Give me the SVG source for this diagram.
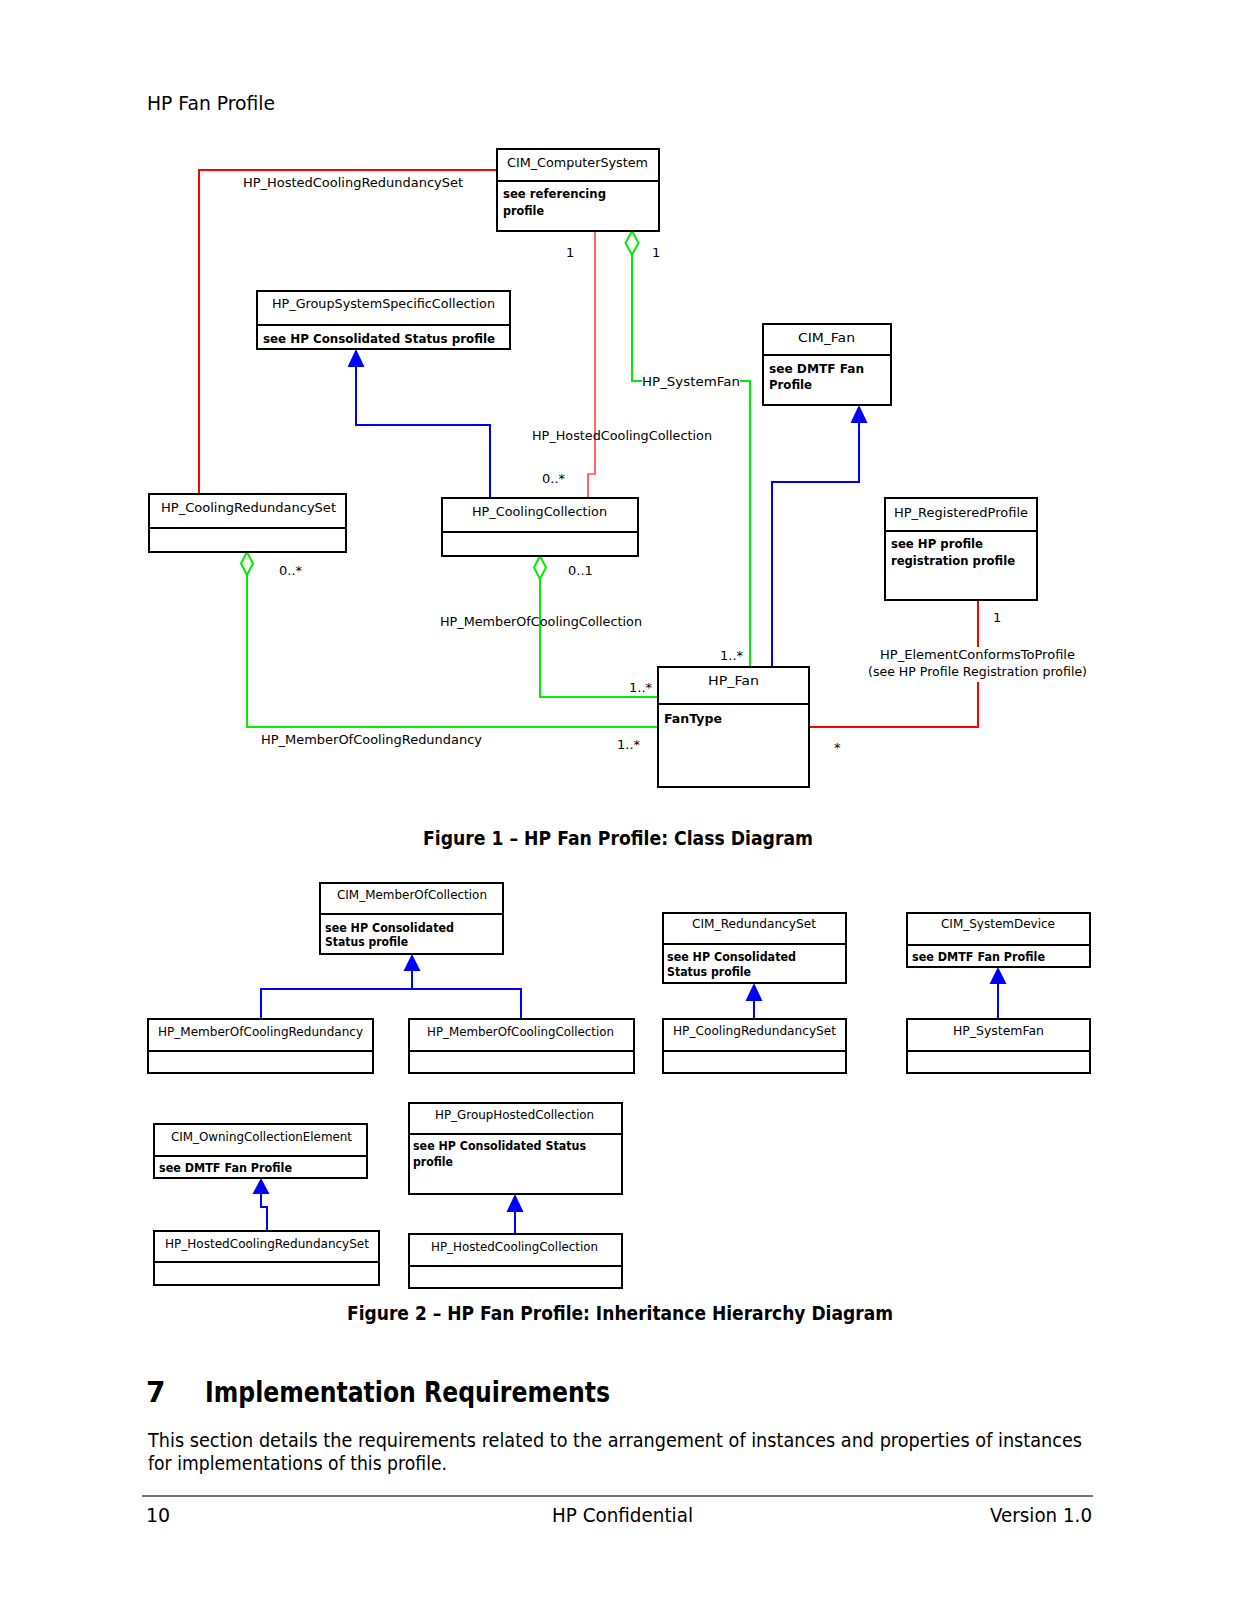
<svg xmlns="http://www.w3.org/2000/svg" width="1237" height="1600" viewBox="0 0 1237 1600">
<style>
text { font-family: "DejaVu Sans", "Liberation Sans", sans-serif; fill: #000; }
.t { font-size: 13px; }
.b { font-size: 12px; font-weight: bold; }
.l { font-size: 13px; }
.box { fill: #fff; stroke: #000; stroke-width: 2; }
.div { stroke: #000; stroke-width: 2; fill: none; }
.red { stroke: #ff0000; stroke-width: 2; fill: none; }
.redthin { stroke: #ff0000; stroke-width: 1.2; fill: none; }
.grn { stroke: #00ee00; stroke-width: 2; fill: none; }
.blu { stroke: #0000ff; stroke-width: 2; fill: none; }
.dia { fill: #fff; stroke: #00ee00; stroke-width: 2; }
.arr { fill: #0000ff; stroke: none; }
.cap { font-size: 19px; font-weight: bold; }
.doc { font-size: 19px; }
</style>
<rect width="1237" height="1600" fill="#fff"/>

<text class="doc" x="147" y="110" textLength="128" lengthAdjust="spacingAndGlyphs">HP Fan Profile</text>

<!-- Connectors figure 1 -->
<g id="connectors-fig1">
  <path class="red" d="M199,494 V170 H497"/>
  <path class="redthin" d="M595,231 V474 H588 V498"/>
  <path class="grn" d="M632,255 V381 H642 M740,381 H750 V667"/>
  <path class="dia" d="M632,231 L638.5,243 L632,255 L625.5,243 Z"/>
  <path class="grn" d="M247,575 V727 H658"/>
  <path class="dia" d="M247,552 L253,563.5 L247,575 L241,563.5 Z"/>
  <path class="grn" d="M540,579 V697 H658"/>
  <path class="dia" d="M540,556 L546,567.5 L540,579 L534,567.5 Z"/>
  <path class="blu" d="M490,498 V425 H356 V366"/>
  <path class="arr" d="M356,349 L364.5,367 L347.5,367 Z"/>
  <path class="blu" d="M772,667 V482 H859 V422"/>
  <path class="arr" d="M859,405 L867.5,423 L850.5,423 Z"/>
  <path class="red" d="M978,600 V647 M978,682 V727 H809"/>

  <text class="l" x="243" y="187" textLength="220" lengthAdjust="spacingAndGlyphs">HP_HostedCoolingRedundancySet</text>
  <text class="l" x="642" y="386" textLength="98" lengthAdjust="spacingAndGlyphs">HP_SystemFan</text>
  <text class="l" x="532" y="440" textLength="180" lengthAdjust="spacingAndGlyphs">HP_HostedCoolingCollection</text>
  <text class="l" x="440" y="626" textLength="202" lengthAdjust="spacingAndGlyphs">HP_MemberOfCoolingCollection</text>
  <text class="l" x="261" y="744" textLength="221" lengthAdjust="spacingAndGlyphs">HP_MemberOfCoolingRedundancy</text>
  <text class="l" x="880" y="659" textLength="195" lengthAdjust="spacingAndGlyphs">HP_ElementConformsToProfile</text>
  <text class="l" x="868" y="676" textLength="219" lengthAdjust="spacingAndGlyphs">(see HP  Profile Registration profile)</text>

  <text class="l" x="566" y="257">1</text>
  <text class="l" x="652" y="257">1</text>
  <text class="l" x="542" y="483">0..*</text>
  <text class="l" x="279" y="575">0..*</text>
  <text class="l" x="568" y="575">0..1</text>
  <text class="l" x="629" y="692">1..*</text>
  <text class="l" x="617" y="749">1..*</text>
  <text class="l" x="720" y="660">1..*</text>
  <text class="l" x="993" y="622">1</text>
  <text class="l" x="834" y="752">*</text>
</g>

<!-- Nodes figure 1 -->
<g id="CIM_ComputerSystem">
  <rect class="box" x="497" y="149" width="162" height="82"/>
  <line class="div" x1="497" y1="181" x2="659" y2="181"/>
  <text class="t" x="507" y="167" textLength="141" lengthAdjust="spacingAndGlyphs">CIM_ComputerSystem</text>
  <text class="b" x="503" y="198" textLength="103" lengthAdjust="spacingAndGlyphs">see referencing</text>
  <text class="b" x="503" y="215" textLength="41" lengthAdjust="spacingAndGlyphs">profile</text>
</g>
<g id="HP_GroupSystemSpecificCollection">
  <rect class="box" x="257" y="291" width="253" height="58"/>
  <line class="div" x1="257" y1="325" x2="510" y2="325"/>
  <text class="t" x="272" y="308" textLength="223" lengthAdjust="spacingAndGlyphs">HP_GroupSystemSpecificCollection</text>
  <text class="b" x="263" y="343" textLength="232" lengthAdjust="spacingAndGlyphs">see HP Consolidated Status profile</text>
</g>
<g id="CIM_Fan">
  <rect class="box" x="763" y="324" width="128" height="81"/>
  <line class="div" x1="763" y1="355" x2="891" y2="355"/>
  <text class="t" x="798" y="342" textLength="57" lengthAdjust="spacingAndGlyphs">CIM_Fan</text>
  <text class="b" x="769" y="373" textLength="95" lengthAdjust="spacingAndGlyphs">see DMTF Fan</text>
  <text class="b" x="769" y="389" textLength="43" lengthAdjust="spacingAndGlyphs">Profile</text>
</g>
<g id="HP_CoolingRedundancySet">
  <rect class="box" x="149" y="494" width="197" height="58"/>
  <line class="div" x1="149" y1="528" x2="346" y2="528"/>
  <text class="t" x="161" y="512" textLength="175" lengthAdjust="spacingAndGlyphs">HP_CoolingRedundancySet</text>
</g>
<g id="HP_CoolingCollection">
  <rect class="box" x="442" y="498" width="196" height="58"/>
  <line class="div" x1="442" y1="532" x2="638" y2="532"/>
  <text class="t" x="472" y="516" textLength="135" lengthAdjust="spacingAndGlyphs">HP_CoolingCollection</text>
</g>
<g id="HP_RegisteredProfile">
  <rect class="box" x="885" y="498" width="152" height="102"/>
  <line class="div" x1="885" y1="531" x2="1037" y2="531"/>
  <text class="t" x="894" y="517" textLength="134" lengthAdjust="spacingAndGlyphs">HP_RegisteredProfile</text>
  <text class="b" x="891" y="548" textLength="92" lengthAdjust="spacingAndGlyphs">see HP profile</text>
  <text class="b" x="891" y="565" textLength="124" lengthAdjust="spacingAndGlyphs">registration profile</text>
</g>
<g id="HP_Fan">
  <rect class="box" x="658" y="667" width="151" height="120"/>
  <line class="div" x1="658" y1="704" x2="809" y2="704"/>
  <text class="t" x="708" y="685" textLength="51" lengthAdjust="spacingAndGlyphs">HP_Fan</text>
  <text class="b" x="664" y="723" textLength="58" lengthAdjust="spacingAndGlyphs">FanType</text>
</g>

<text class="cap" x="423" y="845" textLength="390" lengthAdjust="spacingAndGlyphs">Figure 1 – HP Fan Profile: Class Diagram</text>

<!-- Connectors figure 2 -->
<g id="connectors-fig2">
  <path class="blu" d="M412,970 V989 M261,1019 V989 H521 V1019"/>
  <path class="arr" d="M412,954 L420.5,971 L403.5,971 Z"/>
  <path class="blu" d="M754,1000 V1019"/>
  <path class="arr" d="M754,983 L762.5,1001 L745.5,1001 Z"/>
  <path class="blu" d="M998,983 V1019"/>
  <path class="arr" d="M998,967 L1006.5,984 L989.5,984 Z"/>
  <path class="blu" d="M261,1193 V1207 H267 V1231"/>
  <path class="arr" d="M261,1178 L269.5,1194 L252.5,1194 Z"/>
  <path class="blu" d="M515,1211 V1234"/>
  <path class="arr" d="M515,1194 L523.5,1212 L506.5,1212 Z"/>
</g>

<!-- Nodes figure 2 -->
<g id="CIM_MemberOfCollection">
  <rect class="box" x="320" y="883" width="183" height="71"/>
  <line class="div" x1="320" y1="914" x2="503" y2="914"/>
  <text class="t" x="337" y="899" textLength="150" lengthAdjust="spacingAndGlyphs">CIM_MemberOfCollection</text>
  <text class="b" x="325" y="932" textLength="129" lengthAdjust="spacingAndGlyphs">see HP Consolidated</text>
  <text class="b" x="325" y="946" textLength="83" lengthAdjust="spacingAndGlyphs">Status profile</text>
</g>
<g id="CIM_RedundancySet">
  <rect class="box" x="663" y="913" width="183" height="70"/>
  <line class="div" x1="663" y1="944" x2="846" y2="944"/>
  <text class="t" x="692" y="928" textLength="124" lengthAdjust="spacingAndGlyphs">CIM_RedundancySet</text>
  <text class="b" x="667" y="961" textLength="129" lengthAdjust="spacingAndGlyphs">see HP Consolidated</text>
  <text class="b" x="667" y="976" textLength="84" lengthAdjust="spacingAndGlyphs">Status profile</text>
</g>
<g id="CIM_SystemDevice">
  <rect class="box" x="907" y="913" width="183" height="54"/>
  <line class="div" x1="907" y1="945" x2="1090" y2="945"/>
  <text class="t" x="941" y="928" textLength="114" lengthAdjust="spacingAndGlyphs">CIM_SystemDevice</text>
  <text class="b" x="912" y="961" textLength="133" lengthAdjust="spacingAndGlyphs">see DMTF Fan Profile</text>
</g>
<g id="HP_MemberOfCoolingRedundancy">
  <rect class="box" x="148" y="1019" width="225" height="54"/>
  <line class="div" x1="148" y1="1051" x2="373" y2="1051"/>
  <text class="t" x="158" y="1036" textLength="205" lengthAdjust="spacingAndGlyphs">HP_MemberOfCoolingRedundancy</text>
</g>
<g id="HP_MemberOfCoolingCollection">
  <rect class="box" x="409" y="1019" width="225" height="54"/>
  <line class="div" x1="409" y1="1051" x2="634" y2="1051"/>
  <text class="t" x="427" y="1036" textLength="187" lengthAdjust="spacingAndGlyphs">HP_MemberOfCoolingCollection</text>
</g>
<g id="HP_CoolingRedundancySet_fig2">
  <rect class="box" x="663" y="1019" width="183" height="54"/>
  <line class="div" x1="663" y1="1051" x2="846" y2="1051"/>
  <text class="t" x="673" y="1035" textLength="163" lengthAdjust="spacingAndGlyphs">HP_CoolingRedundancySet</text>
</g>
<g id="HP_SystemFan">
  <rect class="box" x="907" y="1019" width="183" height="54"/>
  <line class="div" x1="907" y1="1051" x2="1090" y2="1051"/>
  <text class="t" x="953" y="1035" textLength="91" lengthAdjust="spacingAndGlyphs">HP_SystemFan</text>
</g>
<g id="CIM_OwningCollectionElement">
  <rect class="box" x="154" y="1124" width="213" height="54"/>
  <line class="div" x1="154" y1="1156" x2="367" y2="1156"/>
  <text class="t" x="171" y="1141" textLength="181" lengthAdjust="spacingAndGlyphs">CIM_OwningCollectionElement</text>
  <text class="b" x="159" y="1172" textLength="133" lengthAdjust="spacingAndGlyphs">see DMTF Fan Profile</text>
</g>
<g id="HP_GroupHostedCollection">
  <rect class="box" x="409" y="1103" width="213" height="91"/>
  <line class="div" x1="409" y1="1134" x2="622" y2="1134"/>
  <text class="t" x="435" y="1119" textLength="159" lengthAdjust="spacingAndGlyphs">HP_GroupHostedCollection</text>
  <text class="b" x="413" y="1150" textLength="173" lengthAdjust="spacingAndGlyphs">see HP Consolidated Status</text>
  <text class="b" x="413" y="1166" textLength="40" lengthAdjust="spacingAndGlyphs">profile</text>
</g>
<g id="HP_HostedCoolingRedundancySet">
  <rect class="box" x="154" y="1231" width="225" height="54"/>
  <line class="div" x1="154" y1="1262" x2="379" y2="1262"/>
  <text class="t" x="165" y="1248" textLength="204" lengthAdjust="spacingAndGlyphs">HP_HostedCoolingRedundancySet</text>
</g>
<g id="HP_HostedCoolingCollection">
  <rect class="box" x="409" y="1234" width="213" height="54"/>
  <line class="div" x1="409" y1="1266" x2="622" y2="1266"/>
  <text class="t" x="431" y="1251" textLength="167" lengthAdjust="spacingAndGlyphs">HP_HostedCoolingCollection</text>
</g>

<text class="cap" x="347" y="1320" textLength="546" lengthAdjust="spacingAndGlyphs">Figure 2 – HP Fan Profile: Inheritance Hierarchy Diagram</text>

<text x="146" y="1402" font-size="28" font-weight="bold">7</text>
<text x="205" y="1402" font-size="28" font-weight="bold" textLength="405" lengthAdjust="spacingAndGlyphs">Implementation Requirements</text>
<text class="doc" x="148" y="1447" textLength="934" lengthAdjust="spacingAndGlyphs">This section details the requirements related to the arrangement of instances and properties of instances</text>
<text class="doc" x="148" y="1470" textLength="299" lengthAdjust="spacingAndGlyphs">for implementations of this profile.</text>

<line x1="142" y1="1496" x2="1093" y2="1496" stroke="#444" stroke-width="1.3"/>
<text class="doc" x="146" y="1522">10</text>
<text class="doc" x="552" y="1522" textLength="141" lengthAdjust="spacingAndGlyphs">HP Confidential</text>
<text class="doc" x="990" y="1522" textLength="102" lengthAdjust="spacingAndGlyphs">Version 1.0</text>
</svg>
